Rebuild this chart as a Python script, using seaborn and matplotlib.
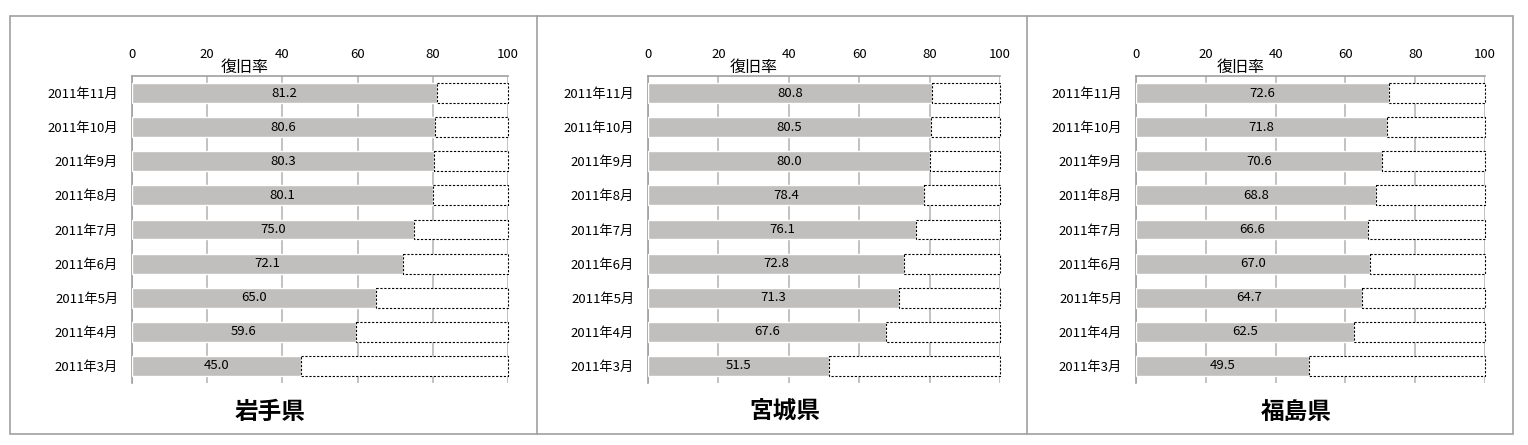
import numpy as np
import pandas as pd
import seaborn as sns
import matplotlib.pyplot as plt
from matplotlib.patches import Rectangle
from matplotlib.lines import Line2D

months = ["2011年11月", "2011年10月", "2011年9月", "2011年8月", "2011年7月",
          "2011年6月", "2011年5月", "2011年4月", "2011年3月"]
iwate = [81.2, 80.6, 80.3, 80.1, 75.0, 72.1, 65.0, 59.6, 45.0]
miyagi = [80.8, 80.5, 80.0, 78.4, 76.1, 72.8, 71.3, 67.6, 51.5]
fukushima = [72.6, 71.8, 70.6, 68.8, 66.6, 67.0, 64.7, 62.5, 49.5]
prefectures = ["岩手県", "宮城県", "福島県"]
x_ticks = [0, 20, 40, 60, 80, 100]

sns.set_style("white")
plt.rcParams['font.family'] = ['Noto Sans CJK JP', 'DejaVu Sans']
plt.rcParams['text.color'] = 'black'
plt.rcParams['xtick.color'] = 'black'
plt.rcParams['ytick.color'] = 'black'

fig = plt.figure(figsize=(15.28, 4.45), dpi=100)
W, H = 1528, 445

# axes boxes in pixels: (left, right)
axes_px = [(132, 508), (648, 1000), (1136, 1485)]
title_x = [270, 785, 1296]
top_px, bottom_px = 76, 383

for i, (vals, name) in enumerate(zip([iwate, miyagi, fukushima], prefectures)):
    l, r = axes_px[i]
    ax = fig.add_axes([l / W, 1 - bottom_px / H, (r - l) / W, (bottom_px - top_px) / H])
    df = pd.DataFrame({"month": months, "rate": vals})
    sns.barplot(data=df, x="rate", y="month", orient="h", color="#c0bfbd",
                saturation=1, width=0.58, ax=ax, zorder=3)
    v = np.array(vals)
    rest = ax.barh(np.arange(len(months)), 100 - v, left=v, height=0.58, color="white",
                   edgecolor="black", linestyle=(0, (2, 1.5)), linewidth=0.8, zorder=3)
    for p in rest:
        p.set_clip_on(False)
    for j, val in enumerate(vals):
        ax.text(val / 2, j, f"{val:.1f}", ha="center", va="center", fontsize=9.5, zorder=4)
    ax.set_xlim(0, 100)
    ax.set_ylim(len(months) - 0.5, -0.5)
    ax.set_xticks(x_ticks)
    ax.xaxis.tick_top()
    ax.tick_params(axis="x", labelsize=9.5, length=0, pad=11)
    ax.tick_params(axis="y", labelsize=9.5, length=0, pad=10)
    ax.set_yticks(np.arange(-0.5, len(months), 1), minor=True)
    ax.tick_params(axis="y", which="minor", length=4, color="#a0a0a0", direction="out")
    ax.grid(axis="x", color="#b8b8b8", linewidth=1.2, zorder=0)
    ax.set_axisbelow(True)
    ax.set_xlabel("")
    ax.set_ylabel("")
    for s in ["right", "bottom"]:
        ax.spines[s].set_visible(False)
    for s in ["left", "top"]:
        ax.spines[s].set_color("#a0a0a0")
        ax.spines[s].set_linewidth(1.2)
    ax.text(0.3, 1.0, "復旧率", transform=ax.transAxes, ha="center", va="bottom",
            fontsize=11.5)
    fig.text(title_x[i] / W, 1 - 412 / H, name, ha="center", va="center",
             fontsize=17, fontweight="bold")

# panel borders
fig.patches.append(Rectangle((10 / W, 1 - 434 / H), (1513 - 10) / W, (434 - 16) / H,
                             transform=fig.transFigure, fill=False,
                             edgecolor="#a0a0a0", linewidth=1.2))
for xp in [537, 1027]:
    fig.lines.append(Line2D([xp / W, xp / W], [1 - 434 / H, 1 - 16 / H],
                            transform=fig.transFigure, color="#a0a0a0", linewidth=1.2))

fig.savefig("out.png", dpi=100)
